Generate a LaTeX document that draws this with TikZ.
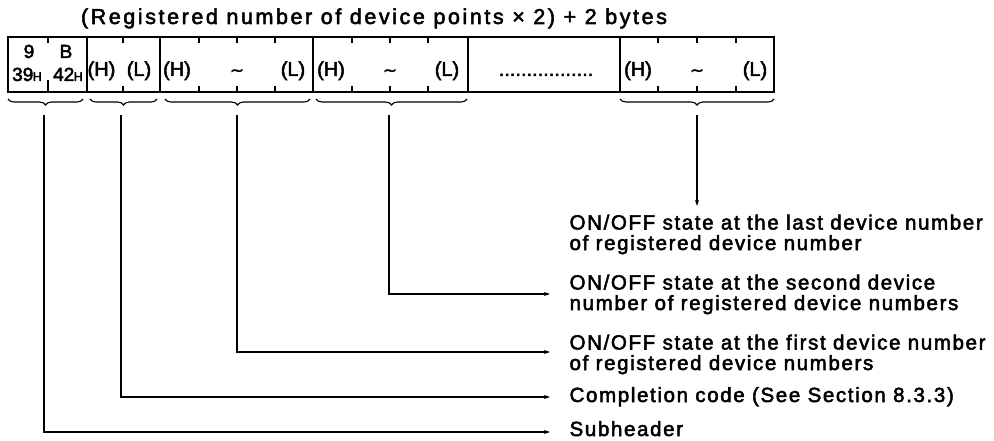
\documentclass[tikz,border=0pt]{standalone}
\usepackage{fontspec}
\setmainfont{Liberation Sans}[FakeBold=2.5]
\newfontfamily\lblfont{Liberation Sans}[LetterSpace=8,FakeBold=2.5]
\newfontfamily\ttlfont{Liberation Sans}[LetterSpace=12,FakeBold=2.5]
\newfontfamily\symfont{DejaVu Sans}[FakeBold=2]
\usetikzlibrary{arrows.meta,decorations.pathreplacing}
\begin{document}
\begin{tikzpicture}[x=1pt,y=-1pt,line width=1.2pt,
  lbl/.style={font=\lblfont\fontsize{20.5}{20.5}\selectfont,anchor=base west,inner sep=0pt,align=left},
  ttl/.style={font=\ttlfont\fontsize{21.5}{21.5}\selectfont,anchor=base,inner sep=0pt},
  cellt/.style={font=\fontsize{20}{20}\selectfont,anchor=base,inner sep=0pt},
  tld/.style={font=\symfont\fontsize{17}{17}\selectfont,anchor=base,inner sep=0pt},
  hex/.style={font=\fontsize{19}{19}\selectfont,anchor=base,inner sep=0pt},
  brc/.style={decorate,decoration={brace,mirror,amplitude=6pt,aspect=0.5},line width=1.1pt},
  conn/.style={line width=1.2pt,-{Stealth[length=6pt,width=4pt]}}]
\useasboundingbox (0,0) rectangle (994,441);
% title
\node[ttl] (title) at (374,24) {(Registered number of device points × 2) + 2 bytes};
% frame
\draw (8,37) rectangle (774,92);
\foreach \x in {87,160,313,468,620} \draw (\x,37) -- (\x,92);
\foreach \x in {48,123,199,237,275,352,390,428,658,697,736} {
  \draw (\x,37) -- (\x,43);
  \draw (\x,92) -- (\x,86);
}
\draw (48,86) -- (48,80);
% cell texts
\node[hex] (n9) at (29,58) {9};
\node[hex] (nB) at (66,58) {B};
\node[hex] (n39) at (27,81) {39\kern-0.5pt{\fontsize{12.5}{12.5}\selectfont H}};
\node[hex] (n42) at (68,81) {42\kern-0.5pt{\fontsize{12.5}{12.5}\selectfont H}};
\node[cellt] (h1) at (101.5,76) {(H)};
\node[cellt] (l1) at (139,76) {(L)};
\node[cellt] (h2) at (177,76) {(H)};
\node[tld] (t2) at (237,76) {∼};
\node[cellt] (l2) at (293,76) {(L)};
\node[cellt] (h3) at (331,76) {(H)};
\node[tld] (t3) at (390,76) {∼};
\node[cellt] (l3) at (447,76) {(L)};
\node[cellt] (dots) at (546,76) {.................};
\node[cellt] (h4) at (638,76) {(H)};
\node[tld] (t4) at (697,76) {∼};
\node[cellt] (l4) at (755,76) {(L)};
% braces
\draw[brc] (8,99) -- (83,99);
\draw[brc] (90,99) -- (157,99);
\draw[brc] (165,99) -- (310,99);
\draw[brc] (316,99) -- (467,99);
\draw[brc] (620,99) -- (774,99);
\coordinate (s1) at (44,115);
\coordinate (s2) at (121,115);
\coordinate (s3) at (237,115);
\coordinate (s4) at (389,115);
\coordinate (s5) at (697,115);
% labels (base anchor = baseline of last line)
\node[lbl] (last) at (569,250) {ON/OFF state at the last device number\\of registered device number};
\node[lbl] (second) at (569,310) {ON/OFF state at the second device\\number of registered device numbers};
\node[lbl] (first) at (569,370) {ON/OFF state at the first device number\\of registered device numbers};
\node[lbl] (comp) at (569,402) {Completion code (See Section 8.3.3)};
\node[lbl] (sub) at (569,436) {Subheader};
% arrow ends
\coordinate (e5) at (697,206);
\coordinate (e4) at (550,294);
\coordinate (e3) at (550,352);
\coordinate (e2) at (550,397);
\coordinate (e1) at (550,432);
\draw[conn] (s5) -- (e5);
\draw[conn] (s4) |- (e4);
\draw[conn] (s3) |- (e3);
\draw[conn] (s2) |- (e2);
\draw[conn] (s1) |- (e1);
\end{tikzpicture}
\end{document}
